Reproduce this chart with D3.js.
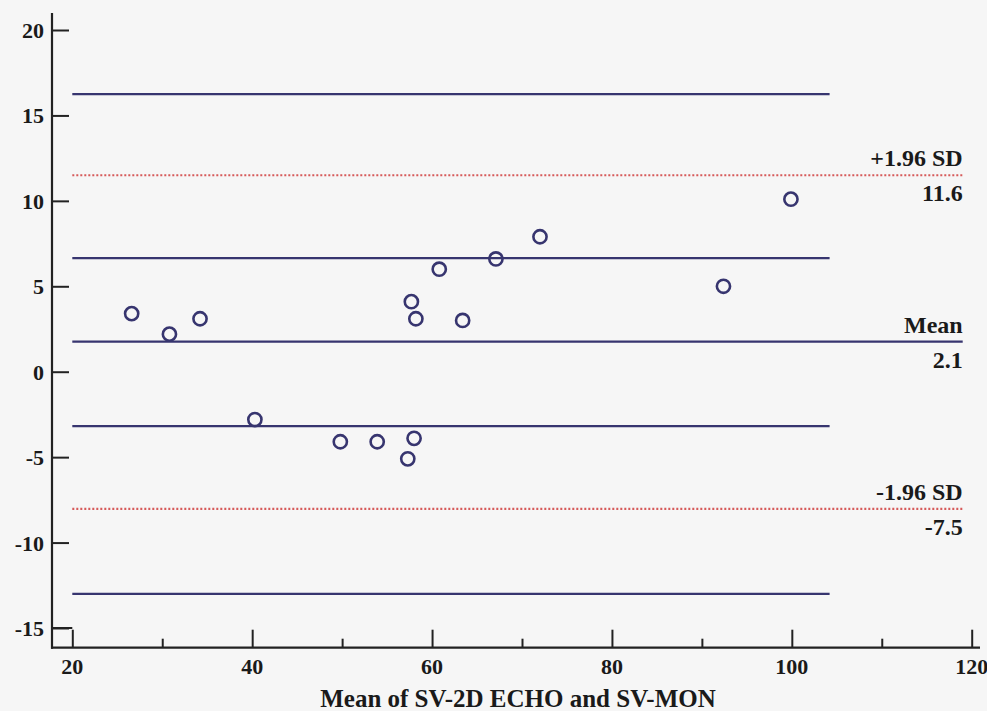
<!DOCTYPE html>
<html>
<head>
<meta charset="utf-8">
<script src="https://cdn.jsdelivr.net/npm/d3@7/dist/d3.min.js"></script>
<style>
  html, body { margin: 0; padding: 0; background: #f6f6f6; }
  svg { display: block; }
  text { font-family: "Liberation Serif", "Times New Roman", serif; font-weight: bold; fill: #1a1a1a; }
</style>
</head>
<body>
<svg id="chart" width="987" height="711"></svg>
<script>
// ---- data ----
const meanValues = [26.6, 30.8, 34.2, 40.3, 49.8, 53.9, 57.3, 57.7, 58.0, 58.2, 60.8, 63.4, 67.1, 72.0, 92.4, 99.9];
const diffValues = [3.4, 2.2, 3.1, -2.8, -4.1, -4.1, -5.1, 4.1, -3.9, 3.1, 6.0, 3.0, 6.6, 7.9, 5.0, 10.1];

const xTicks = [20, 40, 60, 80, 100, 120];
const xMinorTicks = [30, 50, 70, 90, 110];
const yTicks = [20, 15, 10, 5, 0, -5, -10, -15];

// limit lines: mean and ±1.96 SD
const limitValues = [11.5, 1.76, -8.03];
const limitNames = ["+1.96 SD", "Mean", "-1.96 SD"];
const limitLabels = ["11.6", "2.1", "-7.5"];
const limitKinds = ["dotted", "solid", "dotted"];

// confidence interval lines of the limits
const ciValues = [16.25, 6.65, -3.18, -13.0];
const ciExtent = [20, 104.2];
const limitExtent = [20, 119.0];

const xTitle = "Mean of SV-2D ECHO and SV-MON";

// ---- drawing ----
const svg = d3.select("#chart");
const x = d3.scaleLinear().domain([20, 120]).range([72.3, 971.7]);
const y = d3.scaleLinear().domain([-15, 20]).range([628, 30]);

const axisX = 52;      // y-axis line position
const axisY = 647.7;   // x-axis line position
const navy = "#37356f";

// reference lines (CI)
svg.append("g").selectAll("line").data(ciValues).join("line")
  .attr("x1", x(ciExtent[0])).attr("x2", x(ciExtent[1]))
  .attr("y1", d => y(d)).attr("y2", d => y(d))
  .attr("stroke", navy).attr("stroke-width", 2.2);

// limit lines
svg.append("g").selectAll("line").data(limitValues).join("line")
  .attr("x1", x(limitExtent[0])).attr("x2", x(limitExtent[1]))
  .attr("y1", d => y(d)).attr("y2", d => y(d))
  .attr("stroke", (d, i) => limitKinds[i] === "dotted" ? "#d65a5a" : navy)
  .attr("stroke-width", (d, i) => limitKinds[i] === "dotted" ? 2.2 : 2.2)
  .attr("stroke-dasharray", (d, i) => limitKinds[i] === "dotted" ? "2,2" : null);

// limit labels
const lbl = svg.append("g").attr("text-anchor", "end").style("font-size", "24px");
lbl.selectAll("text.name").data(limitValues).join("text").attr("class", "name")
  .attr("x", x(limitExtent[1])).attr("y", d => y(d) - 9)
  .text((d, i) => limitNames[i]);
lbl.selectAll("text.val").data(limitValues).join("text").attr("class", "val")
  .attr("x", x(limitExtent[1])).attr("y", d => y(d) + 26)
  .text((d, i) => limitLabels[i]);

// points
svg.append("g").selectAll("circle").data(meanValues).join("circle")
  .attr("cx", d => x(d)).attr("cy", (d, i) => y(diffValues[i]))
  .attr("r", 6.6)
  .attr("fill", "none").attr("stroke", navy).attr("stroke-width", 2.6);

// y axis
const yAxis = d3.axisRight(y).tickValues(yTicks).tickSize(17).tickFormat("");
const gy = svg.append("g").attr("transform", `translate(${axisX},0)`).call(yAxis);
gy.select(".domain").remove();
gy.selectAll(".tick line").attr("stroke", "#222").attr("stroke-width", 2);
svg.append("g").selectAll("text").data(yTicks).join("text")
  .attr("x", 44).attr("y", d => y(d) + 8)
  .attr("text-anchor", "end").style("font-size", "22px")
  .text(d => d);
// -15 tick reaching to the 20 tick (forms the corner box)
svg.append("line").attr("x1", axisX).attr("x2", x(20)).attr("y1", y(-15)).attr("y2", y(-15))
  .attr("stroke", "#222").attr("stroke-width", 2);

// x axis
const xAxisMajor = d3.axisTop(x).tickValues(xTicks).tickSize(18).tickFormat("");
const gx = svg.append("g").attr("transform", `translate(0,${axisY})`).call(xAxisMajor);
gx.select(".domain").remove();
gx.selectAll(".tick line").attr("stroke", "#222").attr("stroke-width", 2);
const xAxisMinor = d3.axisTop(x).tickValues(xMinorTicks).tickSize(9).tickFormat("");
const gx2 = svg.append("g").attr("transform", `translate(0,${axisY})`).call(xAxisMinor);
gx2.select(".domain").remove();
gx2.selectAll(".tick line").attr("stroke", "#222").attr("stroke-width", 2);
svg.append("g").selectAll("text").data(xTicks).join("text")
  .attr("x", d => x(d)).attr("y", axisY + 26)
  .attr("text-anchor", "middle").style("font-size", "22px")
  .text(d => d);

// axis lines
svg.append("line").attr("x1", axisX).attr("x2", axisX).attr("y1", 13).attr("y2", axisY + 1)
  .attr("stroke", "#222").attr("stroke-width", 2.2);
svg.append("line").attr("x1", axisX - 1).attr("x2", 980).attr("y1", axisY).attr("y2", axisY)
  .attr("stroke", "#222").attr("stroke-width", 2.2);

// x title
svg.append("text").attr("x", 518).attr("y", 707)
  .attr("text-anchor", "middle").style("font-size", "25px")
  .text(xTitle);
</script>
</body>
</html>
